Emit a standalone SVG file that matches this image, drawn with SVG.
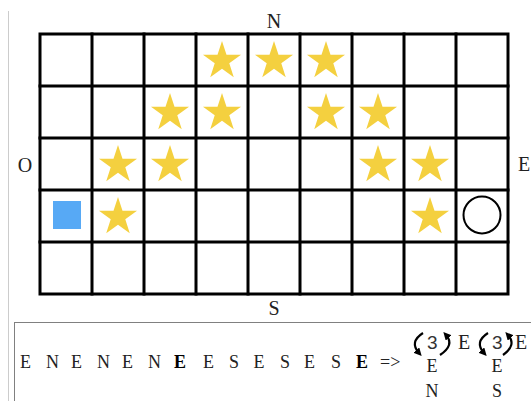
<svg xmlns="http://www.w3.org/2000/svg" xmlns:xlink="http://www.w3.org/1999/xlink" width="531" height="401" viewBox="0 0 531 401">
<style>
.grid{stroke:#000;stroke-width:3;fill:none;stroke-linecap:square}
.star{fill:#F4D03F}
.lbl{font-family:"Liberation Serif","Times New Roman",serif;font-size:20px;fill:#222}
.seq{font-family:"Liberation Serif","Times New Roman",serif;font-size:18px;fill:#222}
.b{font-weight:bold;fill:#000}
.num{font-family:"Liberation Sans",Arial,sans-serif;font-size:19px;fill:#333}
.arr{stroke:#000;stroke-width:2.2;fill:none}
</style>
<defs>
<polygon id="star" points="0,-20 4.5,-6.19 19.02,-6.18 7.28,2.36 11.76,16.18 0,7.65 -11.76,16.18 -7.28,2.36 -19.02,-6.18 -4.5,-6.19"/>
<marker id="ah" viewBox="0 0 10 10" refX="5" refY="5" markerWidth="3.6" markerHeight="3.6" orient="auto" markerUnits="strokeWidth">
<path d="M0,0 L10,5 L0,10 z" fill="#000"/>
</marker>
</defs>
<rect width="531" height="401" fill="#fff"/>
<line x1="8.5" y1="11" x2="8.5" y2="401" stroke="#ccc" stroke-width="1"/>
<g id="grid">
<rect class="grid" x="40" y="34" width="468" height="260"/>
<path class="grid" d="M92,34V294M144,34V294M196,34V294M248,34V294M300,34V294M352,34V294M404,34V294M456,34V294M40,86H508M40,138H508M40,190H508M40,242H508"/>
</g>
<g id="labels">
<text class="lbl" x="274" y="28" text-anchor="middle">N</text>
<text class="lbl" x="274" y="315" text-anchor="middle">S</text>
<text class="lbl" x="25" y="172" text-anchor="middle">O</text>
<text class="lbl" x="524" y="171" text-anchor="middle">E</text>
</g>
<g id="stars" class="star">
<use xlink:href="#star" x="222" y="61"/>
<use xlink:href="#star" x="274" y="61"/>
<use xlink:href="#star" x="326" y="61"/>
<use xlink:href="#star" x="170" y="113"/>
<use xlink:href="#star" x="222" y="113"/>
<use xlink:href="#star" x="326" y="113"/>
<use xlink:href="#star" x="378" y="113"/>
<use xlink:href="#star" x="118" y="165"/>
<use xlink:href="#star" x="170" y="165"/>
<use xlink:href="#star" x="378" y="165"/>
<use xlink:href="#star" x="430" y="165"/>
<use xlink:href="#star" x="118" y="217"/>
<use xlink:href="#star" x="430" y="217"/>
</g>
<g id="start"><rect x="53" y="201" width="28" height="28" fill="#57A9F5"/></g>
<g id="goal"><circle cx="482" cy="215" r="18.5" fill="none" stroke="#000" stroke-width="2"/></g>
<rect x="14.5" y="322.5" width="540" height="100" fill="none" stroke="#000" stroke-width="1" stroke-dasharray="1,1"/>
<g id="sequence">
<text class="seq" y="368"><tspan x="20">E</tspan><tspan x="46">N</tspan><tspan x="71">E</tspan><tspan x="97">N</tspan><tspan x="122">E</tspan><tspan x="148">N</tspan><tspan x="174" class="b">E</tspan><tspan x="203">E</tspan><tspan x="229">S</tspan><tspan x="253.5">E</tspan><tspan x="280">S</tspan><tspan x="304">E</tspan><tspan x="331">S</tspan><tspan x="356" class="b">E</tspan><tspan x="380">=&gt;</tspan></text>
</g>
<g id="loop1">
<path class="arr" d="M423,333 Q409,342 419,353" marker-end="url(#ah)"/>
<text class="num" x="427" y="349">3</text>
<path class="arr" d="M440,355 Q455,345 446,335" marker-end="url(#ah)"/>
<text class="lbl" x="458" y="349">E</text>
<text class="seq" x="432" y="372" text-anchor="middle">E</text>
<text class="seq" x="432" y="397" text-anchor="middle">N</text>
</g>
<g id="loop2">
<path class="arr" d="M488,333 Q474,342 484,353" marker-end="url(#ah)"/>
<text class="num" x="492" y="349">3</text>
<path class="arr" d="M503,355 Q517,345 508,335" marker-end="url(#ah)"/>
<text class="lbl" x="515" y="349">E</text>
<text class="seq" x="497" y="372" text-anchor="middle">E</text>
<text class="seq" x="497" y="397" text-anchor="middle">S</text>
</g>
</svg>
